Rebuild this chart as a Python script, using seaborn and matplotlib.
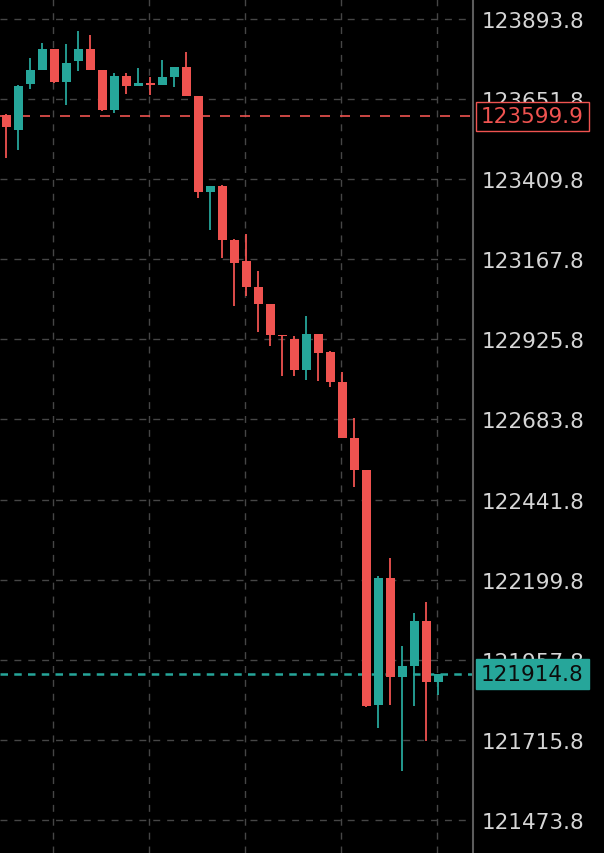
import numpy as np
import pandas as pd
import matplotlib
matplotlib.use("Agg")
import matplotlib.pyplot as plt
import matplotlib.transforms as mtransforms
import seaborn as sns

# velas (precio)
opens = [123603.8, 123559.4, 123698.3, 123740.6, 123803.2, 123704.4, 123767.8, 123803.2,
         123739.7, 123619.8, 123721.6, 123692.3, 123700.4, 123695.3, 123719.5, 123748.8,
         123662.1, 123370.2, 123390.2, 123226.1, 123162.7, 123085.0, 123032.8, 122939.1,
         122927.0, 122833.4, 122942.1, 122886.8, 122798.0, 122627.9, 122531.2, 121822.2,
         122204.9, 121906.8, 121940.0, 122075.0, 121891.7]
closes = [123568.4, 123691.4, 123739.7, 123803.2, 123704.4, 123760.9, 123803.2, 123740.6,
          123618.9, 123721.6, 123692.3, 123700.4, 123694.4, 123718.6, 123748.8, 123661.2,
          123370.2, 123390.2, 123226.1, 123157.5, 123085.0, 123032.8, 122939.1, 122936.1,
          122833.4, 122942.1, 122885.6, 122798.0, 122628.8, 122532.1, 121819.1, 122204.9,
          121906.8, 121939.1, 122075.0, 121891.7, 121914.8]
highs = [123606.0, 123693.0, 123776.0, 123821.3, 123804.0, 123818.3, 123856.6, 123845.5,
         123740.0, 123730.7, 123730.7, 123745.8, 123718.6, 123770.8, 123749.0, 123793.2,
         123662.0, 123390.0, 123392.0, 123229.0, 123244.2, 123133.4, 123033.0, 122940.5,
         122936.0, 122997.4, 122942.0, 122890.0, 122827.3, 122688.3, 122531.0, 122210.1,
         122265.4, 121999.5, 122099.2, 122132.4, 121915.0]
lows = [123473.9, 123498.9, 123682.3, 123740.0, 123700.4, 123634.9, 123737.6, 123740.0,
        123615.8, 123609.8, 123667.2, 123692.0, 123664.2, 123695.0, 123688.4, 123661.0,
        123352.1, 123257.2, 123170.8, 123027.6, 123057.8, 122947.3, 122906.8, 122816.1,
        122816.1, 122803.1, 122799.2, 122781.1, 122628.0, 122480.8, 121816.1, 121752.7,
        121822.2, 121622.8, 121819.1, 121711.6, 121851.5]

niveles = [123893.8, 123651.8, 123409.8, 123167.8, 122925.8, 122683.8,
           122441.8, 122199.8, 121957.8, 121715.8, 121473.8]
precio_ref = 123599.9   # linea roja punteada
precio_ult = 121914.8   # ultimo precio

rojo = "#ef5350"
verde = "#26a69a"

df = pd.DataFrame({"Open": opens, "High": highs, "Low": lows, "Close": closes})
df["sube"] = df.Close >= df.Open
df["color"] = np.where(df.sube, verde, rojo)
df["base"] = df[["Open", "Close"]].min(axis=1)
df["alto"] = np.maximum((df.Close - df.Open).abs(), 3.0)

sns.set_theme(style="dark", rc={
    "axes.facecolor": "black",
    "figure.facecolor": "black",
    "axes.edgecolor": "#5c5c5c",
    "text.color": "#d6d6d6",
    "ytick.color": "#d6d6d6",
})
plt.rcParams["font.family"] = ["DejaVu Sans"]

fig = plt.figure(figsize=(6.04, 8.54), dpi=100)
ax = fig.add_axes([0, 0, 473 / 604, 1])

x = df.index.values
ax.vlines(x, df.Low, df.High, colors=df.color, linewidth=1.3, zorder=3)
ax.bar(x, df.alto, bottom=df.base, width=0.78, color=df.color, linewidth=0, zorder=4)

# lineas de precio
ax.axhline(precio_ref, color=rojo, linewidth=1.2, linestyle=(0, (6, 6)), zorder=2)
ax.axhline(precio_ult, color=verde, linewidth=1.8, linestyle=(0, (3, 2.5)), zorder=2)

ax.set_xlim(-0.525, 38.89)
ax.set_ylim(121374.1, 123954.2)

ax.set_yticks(niveles)
ax.set_yticklabels([f"{v:.1f}" for v in niveles], fontsize=15.5)
ax.yaxis.tick_right()
ax.tick_params(axis="y", length=0, pad=6, colors="#d6d6d6")
ax.set_xticks(np.arange(4, 37, 8) - 0.08)
ax.set_xticklabels([])
ax.tick_params(axis="x", length=0)

ax.grid(True, color="#464646", linestyle=(0, (5, 5)), linewidth=1)
for s in ["left", "top", "bottom"]:
    ax.spines[s].set_visible(False)
ax.spines["right"].set_color("#5c5c5c")
ax.spines["right"].set_linewidth(1.5)

# etiquetas de precio en el eje
trans = mtransforms.blended_transform_factory(ax.transAxes, ax.transData)
ax.text(1.017, precio_ref, f"{precio_ref:.1f}", transform=trans, fontsize=15.5,
        color=rojo, va="center", ha="left", clip_on=False, zorder=10,
        bbox=dict(boxstyle="square,pad=0.22", facecolor="black", edgecolor=rojo, linewidth=1))
ax.text(1.017, precio_ult, f"{precio_ult:.1f}", transform=trans, fontsize=15.5,
        color="#0c0c0c", va="center", ha="left", clip_on=False, zorder=10,
        bbox=dict(boxstyle="square,pad=0.22", facecolor=verde, edgecolor=verde, linewidth=1))

fig.savefig("out.png", dpi=100, facecolor="black")
